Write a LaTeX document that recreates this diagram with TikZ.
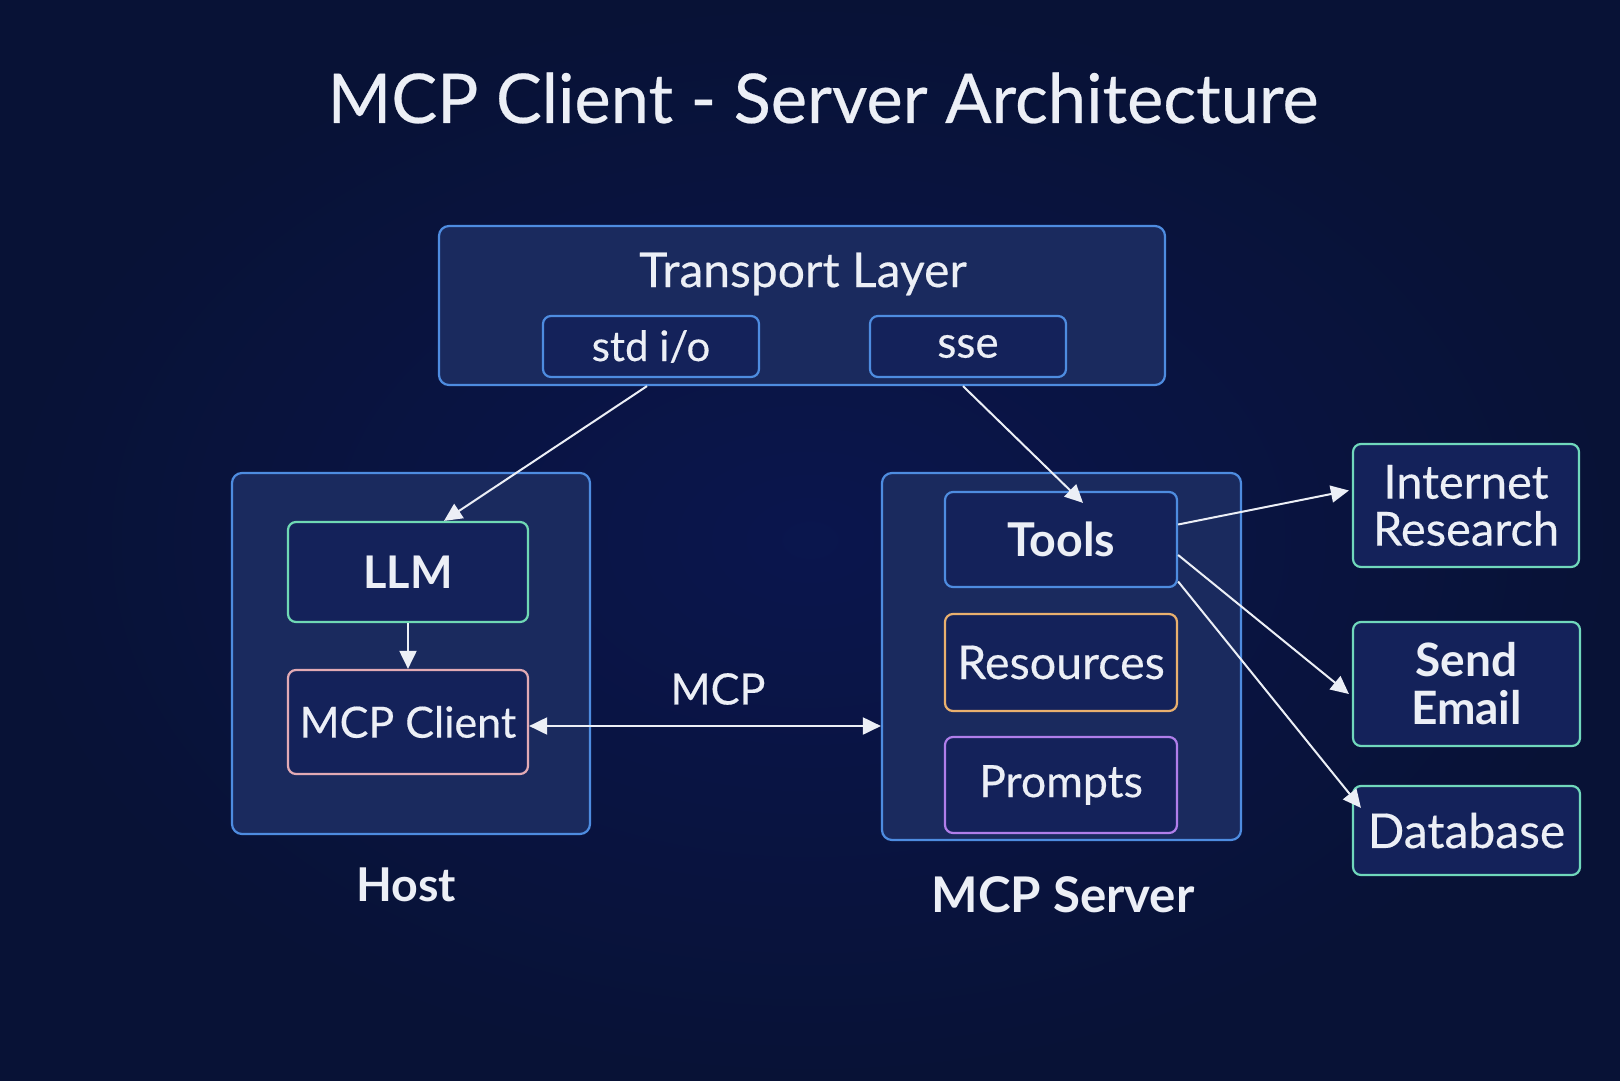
\documentclass[tikz,border=0pt]{standalone}
\usepackage{fontspec}
\setmainfont{Lato}
\newfontfamily\medfont[FakeBold=0.35]{Lato}
\usetikzlibrary{arrows.meta,calc}
\definecolor{bgc}{HTML}{0B1742}
\definecolor{bgedge}{HTML}{081236}
\definecolor{outerfill}{HTML}{1A2A5E}
\definecolor{innerfill}{HTML}{14225A}
\definecolor{blueb}{HTML}{4E8CE0}
\definecolor{greenb}{HTML}{6FD8B4}
\definecolor{pinkb}{HTML}{E2AAB4}
\definecolor{orangeb}{HTML}{E9B06E}
\definecolor{purpleb}{HTML}{B07EEA}
\definecolor{tealb}{HTML}{70D8BC}
\definecolor{txt}{HTML}{ECEFF6}
\begin{document}
\begin{tikzpicture}[x=0.5pt,y=-0.5pt,
  outerbox/.style={draw=blueb, line width=1.1pt, fill=outerfill, rounded corners=5pt, inner sep=0pt},
  innerbox/.style={line width=1.1pt, fill=innerfill, rounded corners=4pt, inner sep=0pt, text=txt, align=center},
  lbl/.style={text=txt, inner sep=0pt, align=center},
  arr/.style={draw=txt, line width=1pt, -{Triangle[length=9pt,width=8.5pt]}},
  darr/.style={draw=txt, line width=1pt, {Triangle[length=9pt,width=8.5pt]}-{Triangle[length=9pt,width=8.5pt]}}]
% background
\useasboundingbox (0,0) rectangle (1620,1080);
\shade[inner color=bgc!90!blue!60!bgc, outer color=bgedge] (0,0) rectangle (1620,1080);
% title
\node[lbl, font=\medfont\fontsize{34.3pt}{38pt}\selectfont] (title) at (823,98) {MCP Client - Server Architecture};
% transport layer
\node[outerbox, minimum width=363pt, minimum height=79.5pt] (tl) at (802,305.5) {};
\node[lbl, font=\medfont\fontsize{24pt}{30pt}\selectfont] (tltext) at (803,274) {Transport Layer};
\node[innerbox, draw=blueb, minimum width=108pt, minimum height=30.5pt, font=\medfont\fontsize{21pt}{27pt}\selectfont] (stdio) at (651,346.5) {std i/o};
\node[innerbox, draw=blueb, minimum width=98pt, minimum height=30.5pt, font=\medfont\fontsize{22pt}{27pt}\selectfont] (sse) at (968,346.5) {sse};
% host
\node[outerbox, minimum width=179pt, minimum height=180.5pt] (host) at (411,653.5) {};
\node[innerbox, draw=greenb, minimum width=120pt, minimum height=50pt, font=\bfseries\fontsize{22.5pt}{28pt}\selectfont] (llm) at (408,572) {LLM};
\node[innerbox, draw=pinkb, minimum width=120pt, minimum height=52pt, font=\medfont\fontsize{21.5pt}{28pt}\selectfont] (mcpc) at (408,722) {MCP Client};
\node[lbl, font=\bfseries\fontsize{23.3pt}{30pt}\selectfont] (hostlbl) at (406,885) {Host};
% server
\node[outerbox, minimum width=179.5pt, minimum height=183.5pt] (server) at (1061.5,656.5) {};
\node[innerbox, draw=blueb, minimum width=116pt, minimum height=47.5pt, font=\bfseries\fontsize{23.3pt}{28pt}\selectfont] (tools) at (1061,539.5) {Tools};
\node[innerbox, draw=orangeb, minimum width=116pt, minimum height=48.5pt, font=\medfont\fontsize{23.3pt}{28pt}\selectfont] (res) at (1061,662.5) {Resources};
\node[innerbox, draw=purpleb, minimum width=116pt, minimum height=48pt, font=\medfont\fontsize{22.3pt}{28pt}\selectfont] (prompts) at (1061,785) {Prompts};
\node[lbl, font=\bfseries\fontsize{24.6pt}{30pt}\selectfont] (serverlbl) at (1063,895) {MCP Server};
% external tools
\node[innerbox, draw=tealb, minimum width=113pt, minimum height=61.5pt, font=\medfont\fontsize{23.5pt}{23.5pt}\selectfont] (inet) at (1466,505.5) {Internet\\Research};
\node[innerbox, draw=tealb, minimum width=113.5pt, minimum height=62pt, font=\bfseries\fontsize{23pt}{24pt}\selectfont] (email) at (1466.5,684) {Send\\Email};
\node[innerbox, draw=tealb, minimum width=113.5pt, minimum height=44.5pt, font=\medfont\fontsize{24pt}{27pt}\selectfont] (db) at (1466.5,830.5) {Database};
% MCP label
\node[lbl, font=\medfont\fontsize{21.6pt}{28pt}\selectfont] (mcplbl) at (718,689) {MCP};
% connectors
\draw[arr] ($(tl.south -| stdio.south)+(-4,0)$) -- ($(llm.north)+(36,0)$);
\draw[arr] (llm.south) -- (mcpc.north);
\draw[darr] ($(mcpc.east)+(0,4)$) -- ($(mcpc.east -| server.west)+(0,4)$);
\draw[arr] ($(tl.south -| sse.south)+(-5,0)$) -- ($(tools.north)+(22,12)$);
\draw[arr] ($(tools.east)+(0,-15)$) -- ($(inet.west)+(-3,-15)$);
\draw[arr] ($(tools.east)+(0,15.5)$) -- ($(email.west)+(-3,10)$);
\draw[arr] ($(tools.east)+(0,42)$) -- ($(db.north west)+(9,23)$);
\end{tikzpicture}
\end{document}
